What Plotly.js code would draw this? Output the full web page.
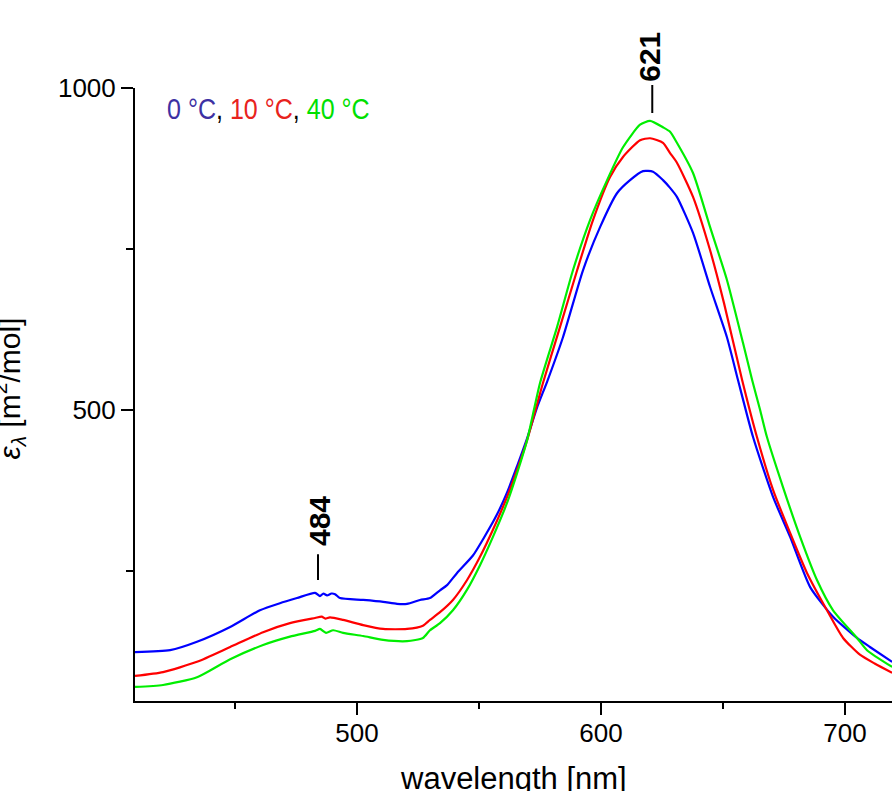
<!DOCTYPE html>
<html><head><meta charset="utf-8">
<script src="https://cdn.plot.ly/plotly-3.0.1.min.js"></script>
<style>html,body{margin:0;padding:0;background:#fff}#chart{width:892px;height:791px}</style>
</head><body><div id="chart"></div><script>
// ---- data ----
const wl0C  = [409.0,423.4,434.4,448.0,460.2,468.4,475.4,482.8,484.8,486.2,487.7,489.5,491.0,493.0,502.5,510.7,516.4,520.5,525.8,529.9,534.0,536.9,541.0,547.5,551.6,557.4,561.5,565.6,569.7,573.8,578.0,584.4,592.6,599.6,606.6,611.9,617.2,621.3,625.4,628.3,631.1,637.7,644.7,651.6,656.1,662.3,670.5,677.5,685.7,695.1,704.9,710.2,719.3];
const eps0C = [124,127,140,163,189,200,208,216,211,215,212,215,214,208,205,202,199,199,205,208,220,228,247,274,299,338,372,413,456,504,545,613,717,784,837,857,871,870,857,845,831,775,691,613,547,458,365,303,225,179,146,132,109];

const wl10C  = [409.0,420.5,434.4,448.0,461.5,472.5,482.8,485.5,487.0,488.9,494.3,502.5,510.7,520.5,527.0,529.9,534.0,539.3,545.1,550.4,555.7,561.5,565.6,569.7,576.2,583.2,590.2,596.7,603.7,609.0,616.0,620.1,625.4,628.3,631.1,637.7,644.7,650.4,657.8,663.9,670.5,677.5,684.4,692.6,699.2,706.1,712.3,719.3];
const eps10C = [87,93,109,132,155,169,177,179,176,178,174,166,160,160,165,174,186,205,236,272,314,365,407,453,542,629,717,795,862,893,919,922,915,899,884,831,748,666,547,458,376,309,247,189,146,120,106,92];

const wl40C  = [409.0,420.5,434.4,448.0,461.5,472.5,482.8,484.8,487.3,490.2,494.3,502.5,510.7,520.5,527.0,529.9,534.0,539.3,545.1,550.4,555.7,561.5,565.6,569.7,575.0,582.0,588.5,595.5,602.5,609.0,616.0,620.1,625.4,628.3,631.1,637.7,644.7,651.6,658.2,661.9,665.2,668.0,674.6,681.6,688.5,695.1,704.9,709.0,719.3];
const eps40C = [70,73,85,113,135,148,157,160,154,158,154,149,143,141,146,158,169,189,221,259,303,356,402,453,542,629,717,795,857,908,943,949,939,932,915,868,784,702,604,547,500,458,380,303,236,189,146,127,101];

const seriesNames = ['0 °C', '10 °C', '40 °C'];
const peakLabels = ['484', '621'];
const peakWl = [484, 621];
const yTickVals = [500, 1000];
const yMinorVals = [250, 750];
const xTitle = 'wavelength [nm]';
const yTitle = '<i>ε</i><sub><i>λ</i></sub> [m<sup>2</sup>/mol]';

// ---- styles ----
const lineColors = ['#0000ff', '#ff0000', '#00ee00'];
const textColors = ['#3d31a3', '#e8231d', '#00e000'];
const FONT = 'Liberation Sans, Arial, sans-serif';

const traces = [
  {x: wl0C, y: eps0C, name: seriesNames[0]},
  {x: wl10C, y: eps10C, name: seriesNames[1]},
  {x: wl40C, y: eps40C, name: seriesNames[2]}
].map((t, i) => Object.assign(t, {type: 'scatter', mode: 'lines',
  line: {color: lineColors[i], width: 2.2, shape: 'spline', smoothing: 0.6}, hoverinfo: 'skip'}));

const legendText = seriesNames.map((n, i) => '<span style="color:' + textColors[i] + '">' + n + '</span>').join(', ');

const layout = {
  width: 892, height: 791,
  margin: {l: 135, r: 0, t: 88, b: 90, pad: 0},
  paper_bgcolor: '#fff', plot_bgcolor: '#fff',
  showlegend: false,
  font: {family: FONT, color: '#000'},
  xaxis: {
    range: [409.0, 719.25], showgrid: false, zeroline: false,
    showline: true, linecolor: '#000', linewidth: 2,
    ticks: 'outside', ticklen: 12, tickwidth: 2, tickcolor: '#000',
    tickmode: 'linear', tick0: 0, dtick: 100, ticklabelstandoff: -4,
    tickfont: {family: FONT, size: 26, color: '#000'},
    minor: {ticks: 'outside', ticklen: 6, tickwidth: 2, tickcolor: '#000', dtick: 50, tick0: 0, showgrid: false}
  },
  yaxis: {
    range: [48.1, 1000.05], showgrid: false, zeroline: false,
    showline: true, linecolor: '#000', linewidth: 2,
    ticks: 'outside', ticklen: 12, tickwidth: 2, tickcolor: '#000',
    tickmode: 'array', tickvals: yTickVals, ticktext: yTickVals.map(String),
    tickfont: {family: FONT, size: 26, color: '#000'},
    minor: {ticks: 'outside', ticklen: 7, tickwidth: 2, tickcolor: '#000', tickvals: yMinorVals, showgrid: false}
  },
  shapes: [
    {type: 'line', xref: 'x', yref: 'y', x0: peakWl[0], x1: peakWl[0], y0: 236, y1: 276, line: {color: '#000', width: 2}},
    {type: 'line', xref: 'x', yref: 'paper', x0: peakWl[1], x1: peakWl[1], y0: 0.9592, y1: 1.0049, line: {color: '#000', width: 2}}
  ],
  annotations: [
    {xref: 'paper', yref: 'paper', x: 0.0396, y: 0.966, xanchor: 'left', yanchor: 'middle', showarrow: false,
     text: legendText, font: {family: FONT, size: 30, color: '#000'}},
    {xref: 'x', yref: 'paper', x: peakWl[0], xshift: 1, y: 0.2936, xanchor: 'center', yanchor: 'middle', showarrow: false,
     textangle: -90, text: '<b>' + peakLabels[0] + '</b>', font: {family: FONT, size: 30, color: '#000'}},
    {xref: 'x', yref: 'paper', x: peakWl[1], xshift: -3, y: 1.0514, xanchor: 'center', yanchor: 'middle', showarrow: false,
     textangle: -90, text: '<b>' + peakLabels[1] + '</b>', font: {family: FONT, size: 30, color: '#000'}},
    {xref: 'paper', yref: 'paper', x: 0.5, y: -0.1268, xanchor: 'center', yanchor: 'middle', showarrow: false,
     text: xTitle, font: {family: FONT, size: 31, color: '#000'}},
    {xref: 'paper', yref: 'paper', x: -0.1658, y: 0.5106, xanchor: 'center', yanchor: 'middle', showarrow: false,
     textangle: -90, text: yTitle, font: {family: FONT, size: 30, color: '#000'}}
  ]
};

Plotly.newPlot('chart', traces, layout, {staticPlot: true, displayModeBar: false}).then(function () {
  // the reference legend uses a condensed face: squeeze the first annotation horizontally
  const t = document.querySelector('.annotation text');
  if (t) {
    t.style.transformBox = 'fill-box';
    t.style.transformOrigin = 'left center';
    t.style.transform = 'scaleX(0.835)';
  }
});
</script></body></html>
